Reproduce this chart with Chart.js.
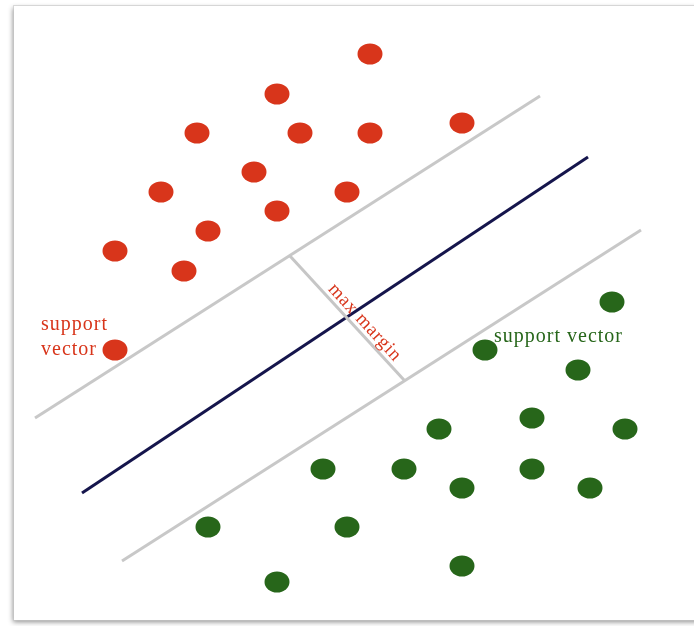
<!DOCTYPE html>
<html>
<head>
<meta charset="utf-8">
<script src="https://cdn.jsdelivr.net/npm/chart.js@4.4.1/dist/chart.umd.min.js"></script>
<style>
  html, body { margin: 0; padding: 0; background: #fff; }
  #wrap { width: 694px; height: 626px; position: relative; }
</style>
</head>
<body>
<div id="wrap"><canvas id="svmChart"></canvas></div>
<script>
/* ---- データ（画像の座標系: x 0-694, y 0-626 下向き） ---- */
const redX = [370, 277, 197, 300, 370, 462, 254, 161, 347, 277, 208, 115, 184, 115];
const redY = [54, 94, 133, 133, 133, 123, 172, 192, 192, 211, 231, 251, 271, 350];

const greenX = [612, 485, 578, 532, 439, 625, 323, 404, 532, 462, 590, 208, 347, 462, 277];
const greenY = [302, 350, 370, 418, 429, 429, 469, 469, 469, 488, 488, 527, 527, 566, 582];

// 境界線（上側マージン・超平面・下側マージン・最大マージン）
const upperMarginX = [35, 540];
const upperMarginY = [418, 96];
const hyperplaneX = [82, 588];
const hyperplaneY = [493, 157];
const lowerMarginX = [122, 641];
const lowerMarginY = [561, 230];
const marginX = [290, 404];
const marginY = [256, 380];

// 注釈テキスト
const redLabel = ["support", "vector"];
const greenLabel = "support vector";
const marginLabel = "max margin";

const RED = "#d8351b";
const GREEN = "#27661a";

function toPoints(xs, ys) {
  return xs.map((x, i) => ({ x, y: ys[i] }));
}

// 楕円形の点
function ellipseStyle(color, w, h) {
  const c = document.createElement("canvas");
  c.width = w;
  c.height = h;
  const g = c.getContext("2d");
  g.fillStyle = color;
  g.beginPath();
  g.ellipse(w / 2, h / 2, w / 2 - 0.5, h / 2 - 0.5, 0, 0, Math.PI * 2);
  g.fill();
  return c;
}

function lineSet(xs, ys, color, width) {
  return {
    type: "scatter",
    data: toPoints(xs, ys),
    showLine: true,
    borderColor: color,
    borderWidth: width,
    pointRadius: 0,
    fill: false
  };
}

/* ---- 枠（影つき） ---- */
const framePlugin = {
  id: "frame",
  beforeDraw(chart) {
    const ctx = chart.ctx;
    ctx.save();
    ctx.fillStyle = "#fff";
    ctx.fillRect(0, 0, chart.width, chart.height);
    ctx.shadowColor = "rgba(0,0,0,0.45)";
    ctx.shadowBlur = 5;
    ctx.shadowOffsetX = -1;
    ctx.shadowOffsetY = 2;
    ctx.fillRect(14, 6, 700, 614);
    ctx.restore();
    ctx.save();
    ctx.strokeStyle = "rgba(200,200,200,0.6)";
    ctx.lineWidth = 1;
    ctx.strokeRect(13.5, 5.5, 700, 615);
    ctx.restore();
  }
};

/* ---- 注釈テキスト ---- */
const labelPlugin = {
  id: "labels",
  afterDatasetsDraw(chart) {
    const ctx = chart.ctx;
    const xs = chart.scales.x;
    const ys = chart.scales.y;
    ctx.save();
    ctx.font = "20px 'Liberation Serif', serif";
    ctx.letterSpacing = "1px";
    ctx.textBaseline = "alphabetic";
    ctx.textAlign = "left";

    ctx.fillStyle = RED;
    ctx.fillText(redLabel[0], xs.getPixelForValue(41), ys.getPixelForValue(330));
    ctx.fillText(redLabel[1], xs.getPixelForValue(41), ys.getPixelForValue(355));

    ctx.fillStyle = GREEN;
    ctx.fillText(greenLabel, xs.getPixelForValue(494), ys.getPixelForValue(342));

    // 最大マージン線に沿った文字
    const x0 = xs.getPixelForValue(marginX[0]);
    const y0 = ys.getPixelForValue(marginY[0]);
    const x1 = xs.getPixelForValue(marginX[1]);
    const y1 = ys.getPixelForValue(marginY[1]);
    const ang = Math.atan2(y1 - y0, x1 - x0);
    const len = Math.hypot(x1 - x0, y1 - y0);
    const t = 50 / len;
    ctx.translate(x0 + (x1 - x0) * t, y0 + (y1 - y0) * t);
    ctx.rotate(ang);
    ctx.font = "19px 'Liberation Serif', serif";
    ctx.letterSpacing = "0.8px";
    ctx.fillStyle = RED;
    ctx.fillText(marginLabel, 0, -5);
    ctx.restore();
  }
};

const ctx = document.getElementById("svmChart").getContext("2d");
window.chart = new Chart(ctx, {
  type: "scatter",
  data: {
    datasets: [
      {
        data: toPoints(redX, redY),
        pointStyle: ellipseStyle(RED, 26, 22)
      },
      {
        data: toPoints(greenX, greenY),
        pointStyle: ellipseStyle(GREEN, 26, 22)
      },
      lineSet(marginX, marginY, "#c6c6c6", 3),
      lineSet(hyperplaneX, hyperplaneY, "#15154c", 3),
      lineSet(upperMarginX, upperMarginY, "#c8c8c8", 3),
      lineSet(lowerMarginX, lowerMarginY, "#c8c8c8", 3)
    ]
  },
  options: {
    responsive: true,
    maintainAspectRatio: false,
    animation: false,
    events: [],
    layout: { padding: 0, autoPadding: false },
    plugins: {
      legend: { display: false },
      tooltip: { enabled: false }
    },
    scales: {
      x: { type: "linear", min: 0, max: 694, display: false },
      y: { type: "linear", min: 0, max: 626, reverse: true, display: false }
    }
  },
  plugins: [framePlugin, labelPlugin]
});
</script>
</body>
</html>
